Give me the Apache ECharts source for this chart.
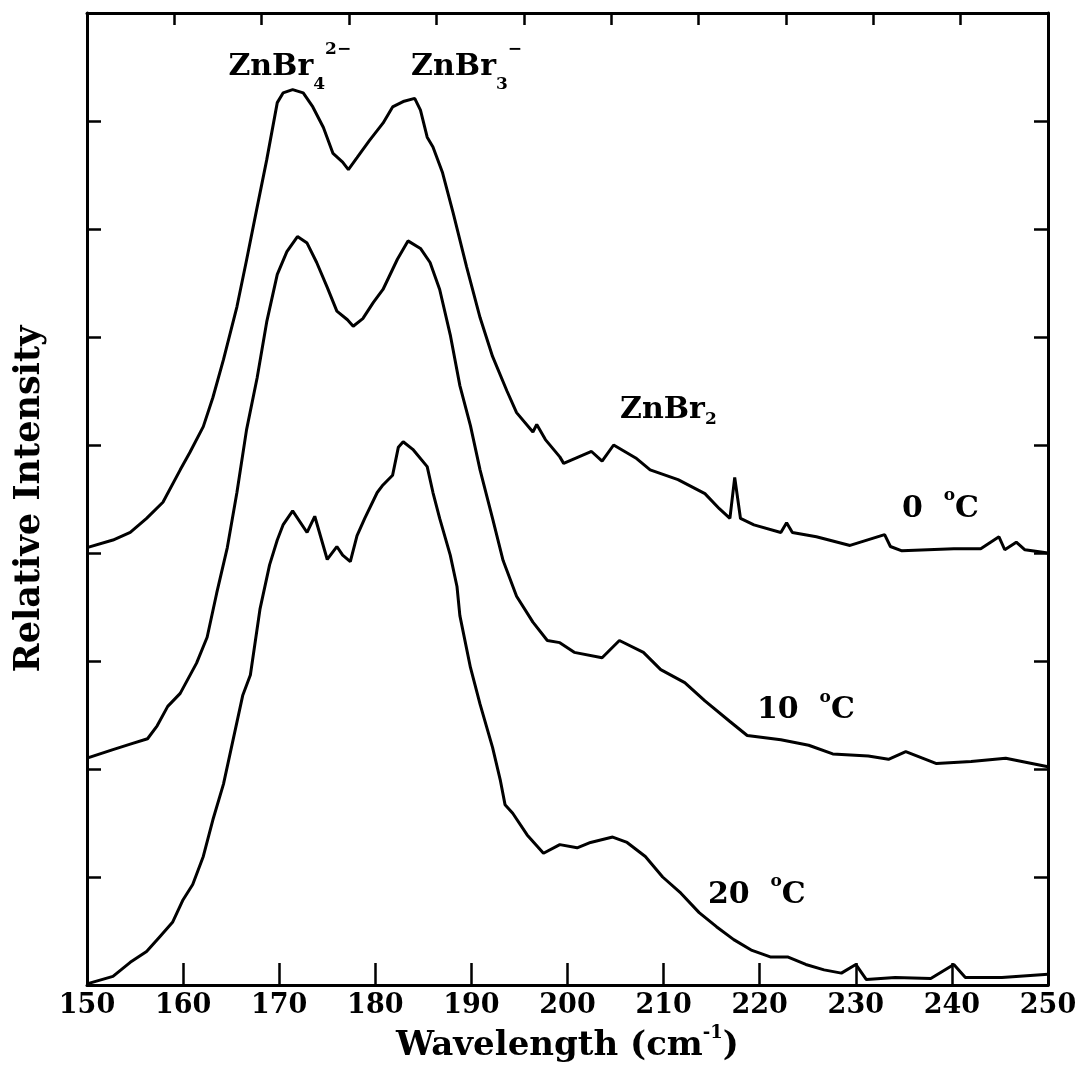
<!DOCTYPE html>
<html>
<head>
<meta charset="utf-8">
<script src="https://cdn.jsdelivr.net/npm/echarts@6/dist/echarts.min.js"></script>
<style>
html,body{margin:0;padding:0;background:#fff;}
#chart{width:1081px;height:1074px;}
</style>
</head>
<body>
<div id="chart"></div>
<script>
// ---- Data ----
const xTicks = [150,160,170,180,190,200,210,220,230,240,250];

// 0 °C spectrum
const wn0 = [150,152.7,154.5,156.2,157.9,159.7,160.7,162.1,163.1,164.2,165.6,166.6,167.7,168.7,169.8,170.4,171.4,172.5,173.5,174.6,175.6,176.6,177.2,178.1,179.4,180.8,181.8,182.9,184.1,184.7,185.4,186.0,187.0,188.1,189.5,190.9,192.2,193.7,194.7,196.4,196.8,197.7,199.2,199.6,202.5,203.6,204.8,207.1,208.6,211.5,214.3,215.8,216.9,217.4,218.0,219.4,222.2,222.8,223.4,225.9,229.4,233.0,233.6,234.8,240.2,243.0,244.9,245.5,246.7,247.6,250];
const int0 = [4.05,4.12,4.19,4.32,4.47,4.77,4.93,5.17,5.44,5.79,6.28,6.71,7.20,7.64,8.17,8.26,8.29,8.26,8.13,7.94,7.70,7.62,7.55,7.66,7.82,7.98,8.13,8.18,8.21,8.10,7.85,7.76,7.52,7.15,6.65,6.18,5.82,5.50,5.30,5.12,5.19,5.05,4.89,4.83,4.94,4.85,5.00,4.88,4.77,4.68,4.55,4.41,4.32,4.70,4.32,4.26,4.19,4.28,4.19,4.15,4.07,4.17,4.06,4.02,4.04,4.04,4.15,4.03,4.10,4.03,4.00];

// 10 °C spectrum
const wn10 = [150,152.7,154.5,156.3,157.3,158.4,159.7,161.4,162.5,163.5,164.6,165.6,166.6,167.7,168.7,169.8,170.8,171.9,172.9,173.9,175.0,176.0,177.1,177.7,178.7,179.8,180.8,182.3,183.4,184.7,185.7,186.7,187.8,188.8,189.9,190.9,192.2,193.3,194.7,196.4,197.9,199.2,200.7,203.6,205.4,207.9,209.7,212.2,214.3,216.9,218.7,222.2,225.1,227.6,231.3,233.4,235.2,238.4,242.0,245.6,250];
const int10 = [2.10,2.18,2.23,2.28,2.40,2.58,2.70,2.98,3.22,3.63,4.05,4.56,5.14,5.62,6.14,6.58,6.79,6.93,6.87,6.69,6.46,6.24,6.16,6.10,6.17,6.32,6.44,6.72,6.89,6.82,6.69,6.44,6.02,5.55,5.18,4.77,4.32,3.93,3.60,3.36,3.19,3.17,3.08,3.03,3.19,3.08,2.92,2.80,2.63,2.44,2.31,2.27,2.22,2.14,2.12,2.09,2.16,2.05,2.07,2.10,2.02];

// 20 °C spectrum
const wn20 = [150,152.7,154.5,156.2,157.6,158.9,160.0,161.0,162.1,163.1,164.2,165.2,166.2,167.0,168.0,169.0,169.8,170.4,171.4,172.9,173.7,175.0,176.0,176.6,177.4,178.1,178.9,180.2,180.8,181.8,182.4,182.9,183.9,185.4,186.0,186.7,187.8,188.5,188.8,189.9,190.9,192.2,193.0,193.5,194.3,195.8,197.5,199.2,201.0,202.4,204.7,206.2,208.1,209.9,211.8,213.7,215.5,217.3,219.2,221.1,222.9,224.8,226.7,228.5,230.0,231.1,234.1,237.8,240.2,241.4,245.2,250];
const int20 = [0.01,0.08,0.21,0.31,0.45,0.58,0.79,0.93,1.19,1.53,1.86,2.27,2.68,2.87,3.48,3.89,4.12,4.26,4.39,4.19,4.34,3.94,4.06,3.98,3.92,4.16,4.32,4.56,4.63,4.72,4.98,5.03,4.96,4.80,4.56,4.32,3.98,3.69,3.42,2.94,2.60,2.20,1.90,1.67,1.59,1.39,1.22,1.30,1.27,1.32,1.37,1.32,1.19,1.00,0.85,0.67,0.54,0.42,0.32,0.26,0.26,0.19,0.14,0.11,0.19,0.05,0.07,0.06,0.19,0.07,0.07,0.10];

// Annotations: [wavenumber, intensity, text]
const annoWn   = [171.1, 189.5, 210.5, 238.8, 224.8, 219.7];
const annoInt  = [8.50, 8.50, 5.32, 4.41, 2.54, 0.83];
const annoText = ['ZnBr{sub|4}{sup|2−}', 'ZnBr{sub|3}{sup|−}', 'ZnBr{sub|2}', '0  {deg|o}C', '10  {deg|o}C', '20  {deg|o}C'];

// ---- Chart ----
const FONT = '"DejaVu Serif", serif';
function zip(a, b) { return a.map((v, i) => [v, b[i]]); }

const chart = echarts.init(document.getElementById('chart'), null, {renderer: 'canvas'});
const lineSeries = (name, wn, it) => ({
  name, type: 'line', data: zip(wn, it), showSymbol: false, symbol: 'none',
  lineStyle: {color: '#000', width: 3}, xAxisIndex: 0, yAxisIndex: 0, z: 3,
  animation: false
});

const richAnno = {
  sub: {fontFamily: FONT, fontWeight: 'bold', fontSize: 17, color: '#000', verticalAlign: 'bottom', lineHeight: 36},
  sup: {fontFamily: FONT, fontWeight: 'bold', fontSize: 17, color: '#000', verticalAlign: 'top', lineHeight: 52},
  deg: {fontFamily: FONT, fontWeight: 'bold', fontSize: 17, color: '#000', verticalAlign: 'top', lineHeight: 44}
};

chart.setOption({
  backgroundColor: '#fff',
  animation: false,
  grid: {left: 87, right: 33, top: 13, bottom: 89, containLabel: false, outerBoundsMode: 'none'},
  xAxis: [{
    type: 'value', min: 150, max: 250, interval: 10, position: 'bottom',
    axisLine: {show: true, onZero: false, lineStyle: {color: '#000', width: 3}},
    axisTick: {show: true, inside: true, length: 22, lineStyle: {color: '#000', width: 2.5}},
    axisLabel: {show: true, color: '#000', fontFamily: FONT, fontWeight: 'bold', fontSize: 27, margin: 7,
      formatter: v => xTicks.includes(v) ? String(v) : ''},
    splitLine: {show: false},
    name: 'Wavelength (cm{sup|-1})',
    nameLocation: 'middle', nameGap: 34,
    nameTextStyle: {color: '#000', fontFamily: FONT, fontWeight: 'bold', fontSize: 34, lineHeight: 44,
      rich: {sup: {fontFamily: FONT, fontWeight: 'bold', fontSize: 18, color: '#000', verticalAlign: 'top', lineHeight: 44}}}
  }, {
    type: 'value', min: 0, max: 11, interval: 1, position: 'top',
    axisLine: {show: true, onZero: false, lineStyle: {color: '#000', width: 3}},
    axisTick: {show: true, inside: true, length: 12, lineStyle: {color: '#000', width: 2.5}},
    axisLabel: {show: false}, splitLine: {show: false}
  }],
  yAxis: [{
    type: 'value', min: 0, max: 9, interval: 1, position: 'left',
    axisLine: {show: true, onZero: false, lineStyle: {color: '#000', width: 3}},
    axisTick: {show: true, inside: true, length: 14, lineStyle: {color: '#000', width: 2.5}},
    axisLabel: {show: false}, splitLine: {show: false},
    name: 'Relative Intensity', nameLocation: 'middle', nameGap: 40, nameRotate: 90,
    nameTextStyle: {color: '#000', fontFamily: FONT, fontWeight: 'bold', fontSize: 35}
  }, {
    type: 'value', min: 0, max: 9, interval: 1, position: 'right',
    axisLine: {show: true, onZero: false, lineStyle: {color: '#000', width: 3}},
    axisTick: {show: true, inside: true, length: 14, lineStyle: {color: '#000', width: 2.5}},
    axisLabel: {show: false}, splitLine: {show: false}
  }],
  series: [
    lineSeries('0 °C', wn0, int0),
    lineSeries('10 °C', wn10, int10),
    lineSeries('20 °C', wn20, int20),
    {
      type: 'scatter', xAxisIndex: 0, yAxisIndex: 0, symbolSize: 0, silent: true, z: 5,
      itemStyle: {color: '#000', opacity: 1},
      data: annoWn.map((w, i) => [w, annoInt[i], annoText[i]]),
      label: {
        show: true, position: 'inside', color: '#000', opacity: 1,
        fontFamily: FONT, fontWeight: 'bold', fontSize: 30,
        formatter: p => p.data[2],
        rich: richAnno
      }
    }
  ]
});
</script>
</body>
</html>
